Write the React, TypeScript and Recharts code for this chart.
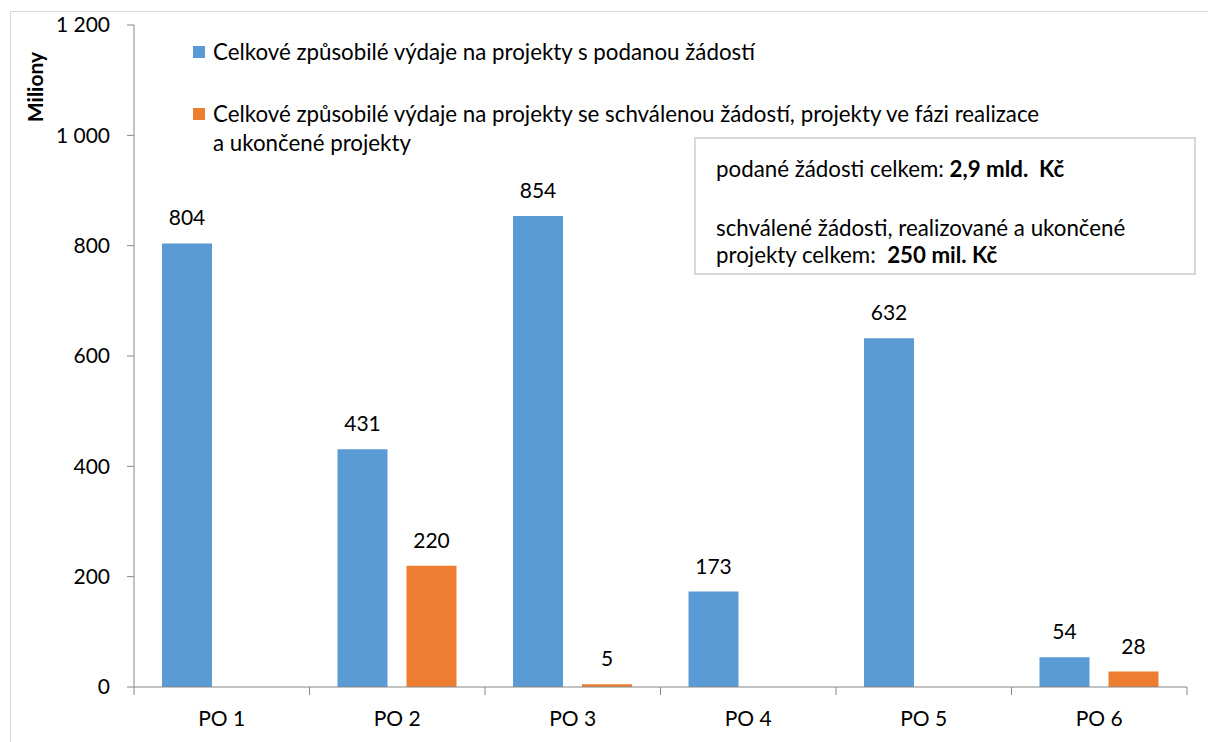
import React from 'react';
import { BarChart, Bar, XAxis, YAxis, Legend, LabelList } from 'recharts';

const categories = ['PO 1', 'PO 2', 'PO 3', 'PO 4', 'PO 5', 'PO 6'];
const submitted = [804, 431, 854, 173, 632, 54];
const approved: (number | null)[] = [null, 220, 5, null, null, 28];
const yTicks = [0, 200, 400, 600, 800, 1000, 1200];
const seriesNames = [
  'Celkové způsobilé výdaje na projekty s podanou žádostí',
  'Celkové způsobilé výdaje na projekty se schválenou žádostí, projekty ve fázi realizace a ukončené projekty',
];

const data = categories.map((name, i) => ({
  name,
  submitted: submitted[i],
  approved: approved[i],
}));

const W = 1208;
const H = 742;
const ML = 74;
const MR = 21;
const YW = 60;
const BAND = (W - ML - YW - MR) / categories.length;
const FONT = 'Lato, sans-serif';
const FS = 21;
const TEXT_FS = 22.3;
const AXIS = '#868686';
const BLUE = '#5B9BD5';
const ORANGE = '#ED7D31';

const fmt = (v: number) => String(v).replace(/\B(?=(\d{3})+(?!\d))/g, ' ');

function CategoryTick(props: any) {
  const { x, y, payload, index } = props;
  const half = BAND / 2;
  return (
    <g>
      <line x1={x - half} x2={x - half} y1={y} y2={y + 8} stroke={AXIS} />
      {index === categories.length - 1 && (
        <line x1={x + half} x2={x + half} y1={y} y2={y + 8} stroke={AXIS} />
      )}
      <text x={x} y={y + 39} textAnchor="middle" fill="#000" fontSize={FS} fontFamily={FONT}>
        {payload.value}
      </text>
    </g>
  );
}

function ValueLabel(props: any) {
  const { x, y, width, value } = props;
  if (value === null || value === undefined) return null;
  return (
    <text x={x + width / 2} y={y - 18} textAnchor="middle" fill="#000" fontSize={FS} fontFamily={FONT}>
      {value}
    </text>
  );
}

function LegendBox({ payload }: any) {
  return (
    <div style={{ fontFamily: FONT, fontSize: TEXT_FS, color: '#000', width: 852 }}>
      {(payload || []).map((item: any, i: number) => (
        <div
          key={i}
          style={{ position: 'relative', paddingLeft: 20, lineHeight: '29px', marginBottom: i === 0 ? 33 : 0 }}
        >
          <span
            style={{
              position: 'absolute',
              left: 0,
              top: 9,
              width: 12,
              height: 12,
              background: item.color,
            }}
          />
          {item.value}
        </div>
      ))}
    </div>
  );
}

export default function App() {
  return (
    <div style={{ position: 'absolute', left: 0, top: 0, width: W, height: H, background: '#fff', overflow: 'hidden' }}>
      <div
        style={{
          position: 'absolute',
          left: 10,
          top: 11,
          width: W + 20,
          height: H + 20,
          border: '1.5px solid #D9D9D9',
        }}
      />
      <BarChart
        width={W}
        height={H}
        data={data}
        margin={{ top: 25, right: MR, bottom: 15, left: ML }}
        barSize={50}
        barGap={19}
      >
        <XAxis
          dataKey="name"
          height={40}
          interval={0}
          tickLine={false}
          tickSize={0}
          tickMargin={0}
          axisLine={{ stroke: AXIS }}
          tick={<CategoryTick />}
        />
        <YAxis
          width={YW}
          domain={[0, 1200]}
          ticks={yTicks}
          tickFormatter={fmt}
          tickSize={7}
          tickMargin={17}
          axisLine={{ stroke: AXIS }}
          tickLine={{ stroke: AXIS }}
          tick={{ fill: '#000', fontSize: FS, fontFamily: FONT }}
          label={{
            content: () => (
              <text
                x={0}
                y={0}
                transform="translate(43 87) rotate(-90)"
                textAnchor="middle"
                fontWeight="bold"
                fontSize={FS}
                fontFamily={FONT}
                fill="#000"
              >
                Miliony
              </text>
            ),
          }}
        />
        <Legend
          layout="horizontal"
          verticalAlign="middle"
          align="center"
          wrapperStyle={{ top: 37, left: 193, width: 870 }}
          content={<LegendBox />}
        />
        <Bar dataKey="submitted" name={seriesNames[0]} fill={BLUE} isAnimationActive={false}>
          <LabelList dataKey="submitted" content={<ValueLabel />} />
        </Bar>
        <Bar dataKey="approved" name={seriesNames[1]} fill={ORANGE} isAnimationActive={false}>
          <LabelList dataKey="approved" content={<ValueLabel />} />
        </Bar>
      </BarChart>
      <div
        style={{
          position: 'absolute',
          left: 694,
          top: 137,
          width: 502,
          height: 138,
          boxSizing: 'border-box',
          border: '2px solid #D9D9D9',
          background: '#fff',
          padding: '16px 0 0 20px',
          fontFamily: FONT,
          fontSize: TEXT_FS,
          color: '#000',
          lineHeight: '27px',
        }}
      >
        <div>
          podané žádosti celkem: <b>2,9 mld.&nbsp; Kč</b>
        </div>
        <div style={{ marginTop: 32 }}>schválené žádosti, realizované a ukončené</div>
        <div>
          projekty celkem:&nbsp; <b>250 mil. Kč</b>
        </div>
      </div>
    </div>
  );
}
